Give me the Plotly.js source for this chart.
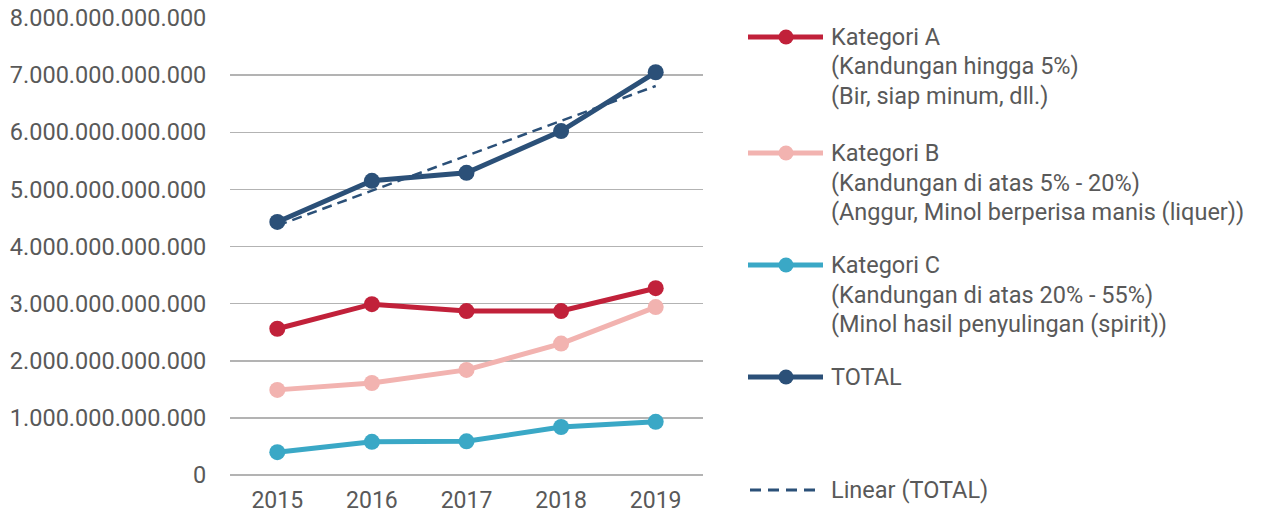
<!DOCTYPE html>
<html>
<head>
<meta charset="utf-8">
<script src="https://cdn.plot.ly/plotly-3.0.1.min.js"></script>
<style>html,body{margin:0;padding:0;background:#fff;}#chart{width:1263px;height:520px;}</style>
</head>
<body>
<div id="chart"></div>
<script>
// ---- data ----
const years = ['2015', '2016', '2017', '2018', '2019'];
const kategoriA = [2.56e12, 2.99e12, 2.87e12, 2.87e12, 3.27e12];
const kategoriB = [1.49e12, 1.61e12, 1.84e12, 2.30e12, 2.94e12];
const kategoriC = [0.40e12, 0.58e12, 0.59e12, 0.84e12, 0.93e12];
const totalVals = [4.43e12, 5.15e12, 5.29e12, 6.02e12, 7.05e12];
const seriesNames = ['Kategori A', 'Kategori B', 'Kategori C', 'TOTAL', 'Linear (TOTAL)'];
const legendLines = [
  ['Kategori A', '(Kandungan hingga 5%)', '(Bir, siap minum, dll.)'],
  ['Kategori B', '(Kandungan di atas 5% - 20%)', '(Anggur, Minol berperisa manis (liquer))'],
  ['Kategori C', '(Kandungan di atas 20% - 55%)', '(Minol hasil penyulingan (spirit))'],
  ['TOTAL'],
  ['Linear (TOTAL)']
];
const colors = ['#c1213a', '#f2b3b0', '#3aa8c6', '#2b5078', '#2b5078'];

// linear trendline (least squares) of TOTAL
const n = totalVals.length;
const xs = totalVals.map((_, i) => i);
const mx = xs.reduce((a, b) => a + b, 0) / n;
const my = totalVals.reduce((a, b) => a + b, 0) / n;
let sxy = 0, sxx = 0;
for (let i = 0; i < n; i++) { sxy += (xs[i] - mx) * (totalVals[i] - my); sxx += (xs[i] - mx) ** 2; }
const slope = sxy / sxx, intercept = my - slope * mx;
const trendVals = xs.map(x => intercept + slope * x);

const seriesData = [kategoriA, kategoriB, kategoriC, totalVals];
const traces = seriesData.map((vals, i) => ({
  type: 'scatter', mode: 'lines+markers', x: years, y: vals, name: seriesNames[i],
  line: {color: colors[i], width: 5}, marker: {color: colors[i], size: 16},
  cliponaxis: false
}));
traces.push({
  type: 'scatter', mode: 'lines', x: years, y: trendVals, name: seriesNames[4],
  line: {color: colors[4], width: 2.5, dash: '10px,6px'}
});

// ---- layout / manual legend ----
const W = 1263, H = 520, ML = 230, MR = 560, MT = 18, MB = 45;
const PW = W - ML - MR, PH = H - MT - MB;
const px = p => (p - ML) / PW;
const py = p => (H - MB - p) / PH;

const entryY = [37, 153, 265, 377, 490];
const lineGap = 29.5;
const shapes = [], annotations = [];
entryY.forEach((y0, i) => {
  const isTrend = i === 4;
  shapes.push({
    type: 'line', xref: 'paper', yref: 'paper',
    x0: px(isTrend ? 750 : 748), x1: px(isTrend ? 821 : 823), y0: py(y0), y1: py(y0),
    line: {color: colors[i], width: isTrend ? 3 : 5, dash: isTrend ? '11px,7px' : 'solid'}
  });
  if (!isTrend) {
    shapes.push({
      type: 'circle', xref: 'paper', yref: 'paper', xsizemode: 'pixel', ysizemode: 'pixel',
      xanchor: px(786), yanchor: py(y0), x0: -7.5, x1: 7.5, y0: -7.5, y1: 7.5,
      fillcolor: colors[i], line: {width: 0}
    });
  }
  legendLines[i].forEach((t, k) => {
    annotations.push({
      xref: 'paper', yref: 'paper', x: px(829), y: py(y0 + k * lineGap),
      xanchor: 'left', yanchor: 'middle', showarrow: false, text: t,
      font: {family: 'Roboto, sans-serif', size: 23.5, color: '#595959'}
    });
  });
});

const layout = {
  width: W, height: H,
  margin: {l: ML, r: MR, t: MT, b: MB},
  paper_bgcolor: '#ffffff', plot_bgcolor: '#ffffff',
  showlegend: false,
  separators: ',.',
  font: {family: 'Roboto, sans-serif', color: '#595959'},
  xaxis: {
    type: 'category', range: [-0.5, 4.5], showgrid: false, zeroline: false, showline: false,
    ticks: 'outside', ticklen: 4, tickcolor: 'rgba(0,0,0,0)',
    tickfont: {family: 'Roboto, sans-serif', size: 23, color: '#595959'}
  },
  yaxis: {
    range: [0, 8e12], dtick: 1e12, tick0: 0, tickformat: ',d',
    showgrid: true, gridcolor: '#b3b3b3', gridwidth: 1.5,
    zeroline: true, zerolinecolor: '#b3b3b3', zerolinewidth: 1.5, showline: false,
    ticks: 'outside', ticklen: 18, tickcolor: 'rgba(0,0,0,0)',
    tickfont: {family: 'Roboto, sans-serif', size: 23.5, color: '#595959'}
  },
  shapes: shapes,
  annotations: annotations
};

Plotly.newPlot('chart', traces, layout, {displayModeBar: false, staticPlot: true});
</script>
</body>
</html>
